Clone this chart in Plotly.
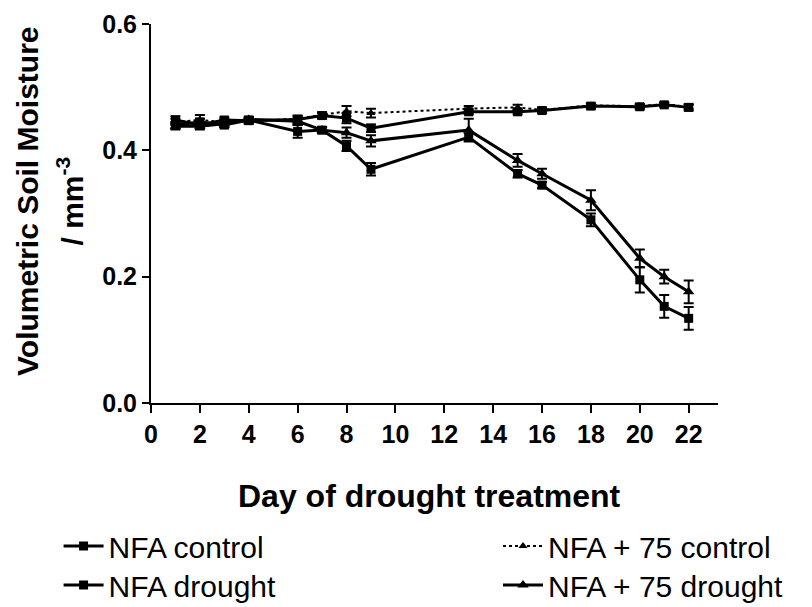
import plotly.graph_objects as go

# Days sampled during the drought treatment
days = [1, 2, 3, 4, 6, 7, 8, 9, 13, 15, 16, 18, 20, 21, 22]

# Volumetric soil moisture (mean) per treatment
nfa_control = [0.448, 0.440, 0.448, 0.447, 0.449, 0.455, 0.451, 0.435, 0.461, 0.461, 0.463, 0.470, 0.469, 0.472, 0.468]
nfa_drought = [0.440, 0.445, 0.440, 0.448, 0.430, 0.432, 0.407, 0.370, 0.421, 0.363, 0.345, 0.290, 0.195, 0.153, 0.134]
nfa75_control = [0.445, 0.448, 0.445, 0.446, 0.450, 0.456, 0.462, 0.459, 0.466, 0.468, 0.464, 0.471, 0.470, 0.473, 0.469]
nfa75_drought = [0.438, 0.438, 0.442, 0.449, 0.446, 0.432, 0.428, 0.415, 0.432, 0.384, 0.363, 0.321, 0.229, 0.200, 0.176]

# Standard errors
nfa_control_err = [0.006, 0.005, 0.004, 0.004, 0.005, 0.005, 0.008, 0.006, 0.004, 0.004, 0.004, 0.004, 0.004, 0.003, 0.005]
nfa_drought_err = [0.005, 0.005, 0.004, 0.004, 0.010, 0.004, 0.008, 0.010, 0.006, 0.006, 0.005, 0.010, 0.020, 0.018, 0.018]
nfa75_control_err = [0.005, 0.008, 0.004, 0.004, 0.005, 0.004, 0.008, 0.007, 0.004, 0.004, 0.004, 0.003, 0.003, 0.003, 0.003]
nfa75_drought_err = [0.005, 0.005, 0.005, 0.004, 0.006, 0.005, 0.008, 0.009, 0.018, 0.010, 0.008, 0.016, 0.014, 0.011, 0.018]

x_ticks = list(range(0, 23, 2))
y_ticks = [0.0, 0.2, 0.4, 0.6]

FONT = "Arial, Liberation Sans, sans-serif"


def series(name, y, err, symbol, size, dash, width, legend):
    return go.Scatter(
        x=days, y=y, name=name, mode="lines+markers", showlegend=True,
        line=dict(color="black", width=width, dash=dash),
        marker=dict(symbol=symbol, size=size, color="black"),
        error_y=dict(type="data", array=err, visible=True, color="black", thickness=2, width=5),
        legend=legend,
    )


fig = go.Figure()
fig.add_trace(series("NFA control", nfa_control, nfa_control_err, "square", 9, "solid", 3, "legend"))
fig.add_trace(series("NFA drought", nfa_drought, nfa_drought_err, "square", 9, "solid", 3, "legend2"))
fig.add_trace(series("NFA + 75 control", nfa75_control, nfa75_control_err, "triangle-up", 8, "dot", 2, "legend3"))
fig.add_trace(series("NFA + 75 drought", nfa75_drought, nfa75_drought_err, "triangle-up", 10, "solid", 3, "legend4"))

legend_style = dict(
    font=dict(family=FONT, size=30, color="black"),
    bgcolor="rgba(0,0,0,0)", orientation="v",
    xanchor="left", yanchor="middle", itemwidth=40,
)

# page body adds an 8px margin, so the figure is 16px smaller than the window
fig.update_layout(
    width=804, height=599,
    showlegend=True,
    margin=dict(l=143, r=94, t=16, b=204, autoexpand=False),
    paper_bgcolor="white", plot_bgcolor="white",
    font=dict(family=FONT, color="black"),
    legend=dict(x=-0.163, y=-0.377, **legend_style),
    legend2=dict(x=-0.163, y=-0.48, **legend_style),
    legend3=dict(x=0.612, y=-0.377, **legend_style),
    legend4=dict(x=0.612, y=-0.48, **legend_style),
    xaxis=dict(
        range=[0, 23.2], tickvals=x_ticks, ticks="outside", ticklen=8, tickwidth=2,
        tickcolor="black", showline=True, linecolor="black", linewidth=2,
        showgrid=False, zeroline=False,
        tickfont=dict(family=FONT, size=25, weight="bold", color="black"),
    ),
    yaxis=dict(
        range=[0, 0.6], tickvals=y_ticks, tickformat=".1f", ticks="outside", ticklen=7,
        tickwidth=2, tickcolor="black", showline=True, linecolor="black", linewidth=2,
        showgrid=False, zeroline=False,
        tickfont=dict(family=FONT, size=25, weight="bold", color="black"),
    ),
    annotations=[
        dict(text="Day of drought treatment", xref="paper", yref="paper", x=0.492, y=-0.245,
             xanchor="center", yanchor="middle", showarrow=False,
             font=dict(family=FONT, size=32, weight="bold", color="black")),
        dict(text="Volumetric Soil Moisture", xref="paper", yref="paper", x=-0.217, y=0.533,
             textangle=-90, xanchor="center", yanchor="middle", showarrow=False,
             font=dict(family=FONT, size=30, weight="bold", color="black")),
        dict(text="/ mm<sup>-3</sup>", xref="paper", yref="paper", x=-0.142, y=0.533,
             textangle=-90, xanchor="center", yanchor="middle", showarrow=False,
             font=dict(family=FONT, size=30, weight="bold", color="black")),
    ],
)

fig.write_html("out.html")
